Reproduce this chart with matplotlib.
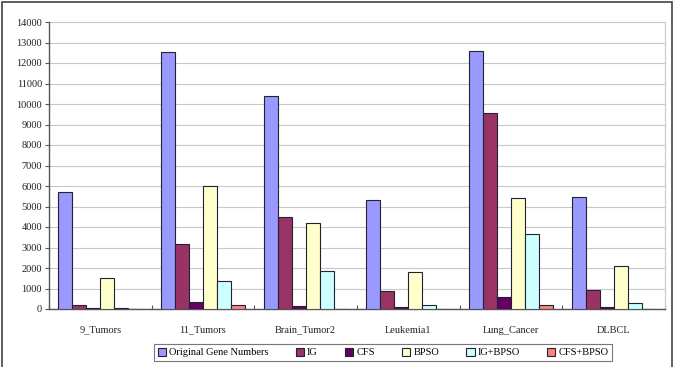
import matplotlib
matplotlib.use("Agg")
import matplotlib.pyplot as plt
import numpy as np
from matplotlib.patches import Rectangle

categories = ["9_Tumors", "11_Tumors", "Brain_Tumor2", "Leukemia1", "Lung_Cancer", "DLBCL"]
series_names = ["Original Gene Numbers", "IG", "CFS", "BPSO", "IG+BPSO", "CFS+BPSO"]
original = [5726, 12533, 10367, 5327, 12600, 5469]
ig = [180, 3185, 4473, 878, 9576, 912]
cfs = [30, 357, 146, 114, 570, 100]
bpso = [1528, 6000, 4180, 1821, 5398, 2114]
ig_bpso = [30, 1366, 1854, 195, 3642, 278]
cfs_bpso = [20, 180, 20, 5, 180, 5]
yticks = list(range(0, 14001, 1000))

colors = ["#9999FF", "#993366", "#660066", "#FFFFCC", "#CCFFFF", "#FF8080"]
series = [original, ig, cfs, bpso, ig_bpso, cfs_bpso]

plt.rcParams['font.family'] = ['Liberation Serif', 'DejaVu Serif']

fig = plt.figure(figsize=(6.75, 3.67), dpi=100)
W, H = 675, 367
ax = fig.add_axes([49 / W, 1 - 309 / H, (665 - 49) / W, (309 - 22) / H])

x = np.arange(len(categories))
bw = 0.136
for i, (vals, c, name) in enumerate(zip(series, colors, series_names)):
    offs = (i - 2.5) * bw
    ax.bar(x + offs, vals, width=bw, color=c, edgecolor="#222233", linewidth=0.8,
           label=name, zorder=3)

ax.set_xlim(-0.5, len(categories) - 0.5)
ax.set_ylim(0, 14000)
ax.set_yticks(yticks)
ax.set_yticklabels([str(t) for t in yticks], fontsize=7.5, color="#222222")
ax.yaxis.grid(True, color="#C8C8C8", linewidth=0.8, zorder=0)
ax.set_xticks(x)
ax.set_xticklabels(categories, fontsize=7.5, color="#222222")
ax.tick_params(axis='x', length=0, pad=12)
ax.tick_params(axis='y', length=3, width=0.8, color="#555555", pad=2)
ax.set_xticks(np.arange(-0.5, len(categories), 1), minor=True)
ax.tick_params(axis='x', which='minor', direction='in', length=3, width=0.8, color="#555555")

for s in ["left", "bottom"]:
    ax.spines[s].set_color("#555555")
    ax.spines[s].set_linewidth(1.0)
ax.spines["top"].set_visible(False)
ax.spines["right"].set_color("#C8C8C8")
ax.spines["right"].set_linewidth(0.8)

leg = fig.legend(loc="center", bbox_to_anchor=(383 / W, 1 - 352.5 / H), ncol=6,
                 fontsize=7.5, frameon=True, fancybox=False, edgecolor="#555555",
                 handlelength=0.8, handleheight=0.8, handletextpad=0.3,
                 columnspacing=2.6, borderpad=0.35)
leg.get_frame().set_linewidth(0.8)

fig.patches.append(Rectangle((2 / W, -0.05), 670 / W, 1 - 2 / H + 0.05,
                             transform=fig.transFigure, fill=False,
                             edgecolor="#444444", linewidth=1.2))

fig.savefig("out.png", dpi=100)
